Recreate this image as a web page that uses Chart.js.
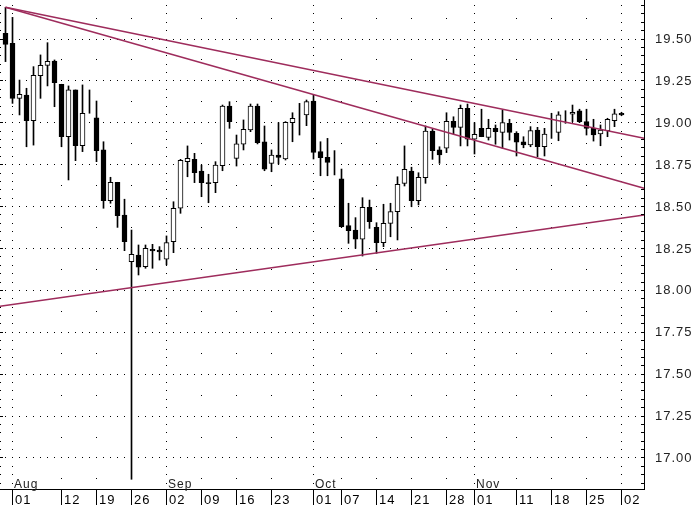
<!DOCTYPE html>
<html><head><meta charset="utf-8">
<style>html,body{margin:0;padding:0;background:#fff;}#wrap{width:694px;height:505px;position:relative}</style>
<script src="https://cdn.jsdelivr.net/npm/chart.js@4"></script>
</head><body><div id="wrap"><canvas id="c" width="694" height="505"></canvas></div>
<script>
// ---- data (trading days, 31 Jul .. 30 Nov) ----
const opens  = [19.537,19.477,19.149,19.169,19.016,19.284,19.346,19.372,19.233,18.920,19.199,18.866,19.105,19.032,18.841,18.538,18.648,18.453,18.174,18.214,18.144,18.248,18.244,18.190,18.294,18.493,18.771,18.785,18.715,18.646,18.646,18.747,19.103,18.791,18.875,18.960,19.103,18.890,18.761,18.811,18.787,19.004,19.015,19.050,19.133,18.831,18.797,18.775,18.668,18.389,18.363,18.308,18.499,18.380,18.288,18.403,18.473,18.642,18.715,18.538,18.675,18.954,18.841,18.851,19.012,18.976,19.090,18.905,18.970,18.916,18.970,18.946,19.000,18.940,18.890,18.871,18.960,18.860,19.000,18.946,19.040,19.054,19.075,19.010,18.970,18.936,18.956,19.016,19.060];
const highs  = [19.692,19.632,19.258,19.209,19.338,19.408,19.481,19.378,19.233,19.223,19.199,19.229,19.199,19.133,18.890,18.678,18.648,18.547,18.363,18.274,18.274,18.278,18.264,18.328,18.532,18.785,18.865,18.821,18.751,18.696,18.771,19.109,19.129,18.930,19.020,19.115,19.115,18.984,18.841,19.004,19.010,19.063,19.119,19.139,19.169,18.890,18.910,18.837,18.727,18.523,18.437,18.556,18.542,18.407,18.517,18.523,18.681,18.865,18.738,18.705,18.984,18.964,18.860,19.063,19.039,19.109,19.115,19.004,19.084,19.024,18.990,19.079,19.024,18.950,18.920,18.980,18.976,18.970,19.060,19.069,19.075,19.109,19.084,19.084,19.024,18.990,19.030,19.084,19.066];
const lows   = [19.368,19.119,19.050,18.860,18.870,19.149,19.223,19.099,18.860,18.662,18.777,18.831,19.060,18.771,18.493,18.523,18.379,18.240,16.876,18.095,18.135,18.135,18.184,18.155,18.228,18.463,18.681,18.646,18.562,18.526,18.586,18.717,18.970,18.745,18.841,18.950,18.877,18.717,18.711,18.757,18.781,18.890,18.930,18.986,18.787,18.687,18.687,18.692,18.381,18.284,18.254,18.208,18.373,18.224,18.264,18.323,18.304,18.626,18.502,18.513,18.642,18.785,18.761,18.825,18.936,18.865,18.865,18.817,18.920,18.900,18.875,18.851,18.900,18.805,18.854,18.860,18.801,18.805,18.910,18.896,19.000,19.010,19.004,18.930,18.894,18.866,18.920,18.980,19.045];
const closes = [19.471,19.149,19.173,19.016,19.286,19.346,19.370,19.242,18.920,19.199,18.866,19.060,19.105,18.837,18.538,18.648,18.449,18.294,18.218,18.141,18.254,18.238,18.232,18.288,18.493,18.779,18.791,18.705,18.646,18.640,18.751,19.103,19.010,18.877,18.964,19.103,18.884,18.726,18.811,18.797,19.006,19.030,19.015,19.129,18.827,18.795,18.767,18.775,18.383,18.359,18.308,18.499,18.413,18.288,18.403,18.473,18.636,18.726,18.538,18.678,18.954,18.837,18.811,19.012,18.976,19.090,18.905,18.934,18.920,18.970,18.950,19.004,18.946,18.887,18.871,18.956,18.860,18.936,19.000,19.050,19.040,19.066,19.010,18.970,18.930,18.960,19.024,19.056,19.050];

// date axis: trading-day index and label
const dateTickIdx    = [1,8,13,18,23,28,33,38,44,48,53,58,63,67,73,78,83,88];
const dateTickLabels = ['01','12','19','26','02','09','16','23','01','07','14','21','28','01','11','18','25','02'];
const monthTickIdx   = [1,23,44,67,88];
const monthLabels    = ['Aug','Sep','Oct','Nov'];
const priceTicks     = [17.00,17.25,17.50,17.75,18.00,18.25,18.50,18.75,19.00,19.25,19.50];

// trend lines: [index, price] end points
const trendUpperA = [[0,19.692],[91.214,18.911]];
const trendUpperB = [[0,19.692],[91.214,18.612]];
const trendLower  = [[-0.786,17.908],[91.214,18.453]];

const X_MIN = -0.786, X_MAX = 91.214, Y_MIN = 16.818, Y_MAX = 19.7357;

// ---- build datasets ----
const wickData = opens.map((o,i)=>({x:i, y:[lows[i], highs[i]]}));
const bodyData = [], bodyBg = [];
opens.forEach((o,i)=>{
  const c = closes[i];
  if (o === c) return;
  bodyData.push({x:i, y:[o,c]});
  bodyBg.push(c > o ? '#ffffff' : '#000000');
});
const lineDs = (pts)=>({type:'line', data:pts.map(p=>({x:p[0],y:p[1]})), borderColor:'#9e2c5c', borderWidth:1.5, pointRadius:0, order:1, clip:false});

const px = (n)=>Math.floor(n);

const gridPlugin = {
  id:'grid',
  beforeDatasetsDraw(chart){
    const {ctx, chartArea:a, scales:{x, y}} = chart;
    ctx.save();
    ctx.fillStyle = '#000';
    priceTicks.forEach(v=>{
      const yy = Math.round(y.getPixelForValue(v)) - 1;
      for (let i = 0; i <= 91; i++) {
        const xx = px(x.getPixelForValue(i));
        if (xx < a.right - 1) ctx.fillRect(xx, yy, 1, 1);
      }
      ctx.fillRect(0, yy, 3, 1);
    });
    for (let v = 16.85; v < Y_MAX; v += 0.05) {
      ctx.fillRect(0, Math.round(y.getPixelForValue(v)) - 1, 1, 1);
    }
    dateTickIdx.forEach(idx=>{
      const xx = px(x.getPixelForValue(idx));
      const isMonth = monthTickIdx.includes(idx);
      const step = isMonth ? 0.05 : 0.125;
      const start = isMonth ? 16.85 : 16.875;
      for (let v = start; v < Y_MAX; v += step) {
        const yy = Math.round(y.getPixelForValue(v)) - 1;
        if (yy > 2) ctx.fillRect(xx, yy, 1, 1);
      }
    });
    ctx.restore();
  },
  afterDraw(chart){
    const {ctx, chartArea:a, scales:{x, y}} = chart;
    ctx.save();
    ctx.fillStyle = '#000';
    ctx.fillRect(a.right, 0, 1, a.bottom + 1);
    for (let v = 16.85; v < Y_MAX; v += 0.05) {
      ctx.fillRect(a.right - 3, Math.round(y.getPixelForValue(v)) - 1, 3, 1);
    }
    ctx.fillRect(0, a.bottom, a.right + 1, 1);
    ctx.font = '13px "Liberation Sans", Arial, sans-serif';
    ctx.letterSpacing = '1px';
    ctx.textBaseline = 'alphabetic';
    ctx.fillStyle = '#222';
    priceTicks.forEach(v=>{
      ctx.fillText(v.toFixed(2), 655, y.getPixelForValue(v) + 3.5);
    });
    ctx.fillStyle = '#000';
    dateTickIdx.forEach((idx,k)=>{
      const xx = px(x.getPixelForValue(idx));
      ctx.fillRect(xx, a.bottom, 1, 16);
      ctx.fillText(dateTickLabels[k], xx + 3, 504);
    });
    ctx.font = '12px "Liberation Sans", Arial, sans-serif';
    ctx.fillStyle = '#222';
    monthLabels.forEach((m,k)=>{
      const xx = px(x.getPixelForValue(monthTickIdx[k]));
      ctx.fillText(m, xx + 2, 488);
    });
    ctx.restore();
  }
};

new Chart(document.getElementById('c'), {
  type:'bar',
  data:{datasets:[
    {data:wickData, backgroundColor:'#000', borderWidth:0, barThickness:1, grouped:false, order:3},
    {data:bodyData, backgroundColor:bodyBg, borderColor:'#000', borderWidth:1, borderSkipped:false, barThickness:5, grouped:false, order:2},
    lineDs(trendUpperA), lineDs(trendUpperB), lineDs(trendLower)
  ]},
  options:{
    responsive:false, animation:false, events:[],
    layout:{padding:0},
    plugins:{legend:{display:false}, tooltip:{enabled:false}},
    scales:{
      x:{type:'linear', min:X_MIN, max:X_MAX, offset:false, grid:{display:false}, border:{display:false},
         ticks:{display:false}, afterFit:(s)=>{s.height = 16;}},
      y:{type:'linear', position:'right', min:Y_MIN, max:Y_MAX, grid:{display:false}, border:{display:false},
         ticks:{display:false}, afterFit:(s)=>{s.width = 50;}}
    }
  },
  plugins:[gridPlugin]
});
</script>
</body></html>
